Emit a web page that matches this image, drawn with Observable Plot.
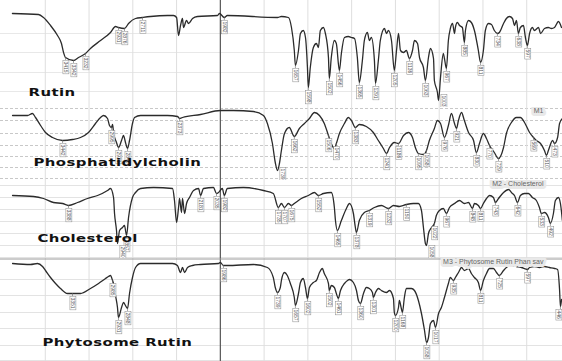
<!DOCTYPE html>
<html><head><meta charset="utf-8">
<script src="https://cdn.jsdelivr.net/npm/d3@7"></script>
<script src="https://cdn.jsdelivr.net/npm/@observablehq/plot@0.6"></script>
<style>
body{margin:0;background:#fff;width:562px;height:361px;overflow:hidden}
#chart svg{display:block}
</style></head><body><div id="chart"></div>
<script>
// wavenumber (cm-1), transmittance (panel units)
const rutin = [[3900,94],[3662,93],[3616,90],[3552,82],[3488,72],[3452,64],[3433,55],[3415,50],[3342,47],[3296,50],[3232,54],[3187,59],[3095,67],[3004,75],[2958,81],[2931,80],[2876,79],[2839,84],[2775,89],[2711,90],[2638,91],[2483,92],[2428,92],[2400,90],[2382,72],[2364,82],[2346,89],[2337,80],[2309,87],[2291,84],[2254,89],[2209,91],[2026,92],[2008,94],[1982,90],[1968,92],[1739,90],[1721,91],[1689,90],[1675,80],[1662,57],[1657,42],[1643,57],[1634,74],[1621,77],[1611,70],[1602,40],[1598,20],[1589,40],[1575,60],[1561,64],[1552,60],[1543,77],[1529,80],[1520,74],[1506,50],[1502,29],[1493,50],[1479,67],[1470,64],[1456,37],[1447,54],[1433,70],[1415,71],[1401,70],[1387,69],[1374,50],[1365,25],[1351,47],[1342,67],[1328,75],[1319,67],[1310,70],[1296,47],[1291,24],[1278,47],[1269,67],[1250,79],[1241,74],[1232,77],[1218,67],[1205,37],[1195,57],[1186,74],[1177,57],[1163,55],[1150,57],[1136,49],[1122,57],[1113,67],[1099,64],[1090,50],[1072,40],[1063,27],[1049,50],[1040,59],[1026,49],[1022,27],[1008,15],[1003,7],[994,30],[981,54],[976,49],[967,39],[958,67],[949,79],[939,84],[930,74],[926,80],[917,85],[907,82],[894,80],[885,65],[880,77],[866,87],[853,85],[839,77],[821,57],[811,45],[798,57],[789,77],[775,84],[761,83],[748,77],[734,74],[725,75],[706,84],[693,89],[679,91],[665,89],[656,82],[647,87],[638,74],[629,80],[615,82],[606,70],[597,62],[587,74],[574,80],[565,77],[546,80],[537,74],[519,79],[501,80],[487,79],[473,80],[455,86],[441,80]];
const rutinPeaks = [3415,3342,3232,2931,2876,2711,1982,1657,1598,1502,1456,1365,1291,1205,1136,1063,1003,967,885,811,734,638,597];

const phosphatidylcholin = [[3899,65],[3762,65],[3717,67],[3689,63],[3643,55],[3598,48],[3534,43],[3442,40],[3351,41],[3278,43],[3205,48],[3141,57],[3095,63],[3067,65],[3031,62],[3013,55],[2995,53],[2985,56],[2976,48],[2949,38],[2931,33],[2903,40],[2885,45],[2867,38],[2848,32],[2830,40],[2803,57],[2784,63],[2729,65],[2483,65],[2392,64],[2373,62],[2346,63],[2181,66],[2000,70],[1941,70],[1849,69],[1803,65],[1785,57],[1762,37],[1749,18],[1739,10],[1730,17],[1721,30],[1707,47],[1685,53],[1662,44],[1639,52],[1616,57],[1593,62],[1570,68],[1547,65],[1525,57],[1506,45],[1493,37],[1479,32],[1470,37],[1456,47],[1433,57],[1415,63],[1401,60],[1383,53],[1365,56],[1333,54],[1301,48],[1278,40],[1255,32],[1241,27],[1227,33],[1205,38],[1186,37],[1163,45],[1141,48],[1122,43],[1109,33],[1095,27],[1072,26],[1058,30],[1045,40],[1022,52],[1008,60],[994,57],[976,43],[958,55],[944,67],[930,57],[921,52],[912,60],[898,68],[885,60],[866,48],[843,40],[830,28],[816,37],[798,47],[784,42],[770,35],[748,28],[729,22],[706,33],[693,47],[670,58],[647,63],[629,63],[610,58],[587,48],[569,43],[556,40],[537,37],[519,30],[510,25],[501,30],[482,40],[473,37],[459,43],[450,57],[437,62]];
const phosphatidylcholinPeaks = [3442,2995,2931,2848,2373,1739,1662,1506,1470,1383,1241,1186,1095,1058,976,921,830,770,729,569,510,473];

const cholesterol = [[3899,63],[3707,62],[3616,60],[3525,56],[3442,55],[3388,53],[3305,56],[3214,60],[3122,63],[3031,68],[3004,70],[2976,61],[2967,45],[2949,28],[2940,15],[2921,28],[2894,31],[2876,33],[2857,23],[2839,41],[2803,61],[2775,66],[2729,70],[2611,71],[2437,70],[2419,58],[2400,36],[2382,51],[2373,60],[2355,46],[2346,60],[2327,45],[2309,55],[2282,61],[2245,68],[2199,70],[2181,63],[2154,70],[2063,71],[2035,65],[2017,66],[1991,70],[1982,63],[1968,70],[1895,71],[1803,68],[1758,65],[1735,51],[1721,55],[1707,51],[1689,55],[1675,53],[1662,55],[1630,60],[1598,63],[1570,66],[1552,63],[1529,65],[1493,66],[1479,51],[1474,38],[1465,28],[1447,38],[1424,50],[1410,55],[1392,45],[1383,31],[1378,26],[1365,38],[1342,46],[1319,48],[1296,51],[1264,53],[1232,50],[1209,53],[1182,52],[1150,54],[1118,55],[1095,55],[1081,48],[1072,31],[1063,15],[1058,13],[1049,25],[1035,31],[1022,35],[1013,43],[999,48],[981,50],[967,45],[953,51],[930,55],[907,58],[885,55],[866,56],[848,50],[839,55],[821,53],[811,50],[798,55],[784,60],[770,63],[752,61],[743,56],[729,60],[706,66],[683,69],[670,66],[656,63],[642,56],[629,63],[610,65],[592,65],[574,61],[556,58],[542,51],[533,45],[519,46],[501,41],[492,35],[478,45],[469,58],[455,61],[446,55],[437,38]];
const cholesterolPeaks = [3388,2940,2857,2181,2035,1982,1735,1707,1675,1552,1465,1378,1319,1232,1150,1058,1022,967,848,811,743,642,533,492];

const phytosomeRutin = [[3899,98],[3735,97],[3671,98],[3625,95],[3598,91],[3552,84],[3506,78],[3461,73],[3397,68],[3351,68],[3278,68],[3187,73],[3113,78],[3049,83],[3022,85],[3004,86],[2985,81],[2976,78],[2958,66],[2940,54],[2931,44],[2903,54],[2885,59],[2867,56],[2848,53],[2830,68],[2803,84],[2775,94],[2729,98],[2638,98],[2437,98],[2392,96],[2364,89],[2346,94],[2327,89],[2300,94],[2254,96],[2181,97],[2017,98],[2000,99],[1986,96],[1968,96],[1849,97],[1785,94],[1758,84],[1749,74],[1739,69],[1726,74],[1721,81],[1707,89],[1694,86],[1680,78],[1662,64],[1657,56],[1643,68],[1634,79],[1621,83],[1611,74],[1602,63],[1593,74],[1575,79],[1561,81],[1547,89],[1534,93],[1525,88],[1506,78],[1502,71],[1493,76],[1479,74],[1470,68],[1461,63],[1451,71],[1433,78],[1419,81],[1410,82],[1392,79],[1378,71],[1369,61],[1360,58],[1346,68],[1333,74],[1319,73],[1305,69],[1301,64],[1291,69],[1278,73],[1264,71],[1241,69],[1227,71],[1209,63],[1205,49],[1200,46],[1186,54],[1182,61],[1173,53],[1168,49],[1159,64],[1150,73],[1127,73],[1113,71],[1095,61],[1081,48],[1067,31],[1058,19],[1049,24],[1040,38],[1026,41],[1017,34],[1003,48],[990,54],[976,64],[958,78],[949,84],[935,81],[926,84],[912,89],[898,94],[885,91],[866,93],[853,88],[839,84],[821,79],[811,71],[798,81],[784,88],[770,93],[752,93],[738,89],[725,86],[706,91],[693,94],[670,96],[647,95],[624,94],[597,92],[587,94],[565,95],[542,94],[519,95],[496,94],[473,93],[459,92],[450,72],[446,55],[441,62]];
const phytosomeRutinPeaks = [3351,2985,2931,2848,1986,1739,1657,1602,1502,1461,1360,1301,1200,1168,1058,1017,935,811,725,597,446];

const titles = ["Rutin", "Phosphatidylcholin", "Cholesterol", "Phytosome Rutin"];
const tags = ["", "M1", "M2 - Cholesterol", "M3 - Phytosome Rutin Phan sav"];
const vGrid = [3600, 3200, 2800, 2400, 1800, 1600, 1400, 1200, 1000, 800, 600];
const scaleBreak = [2000];
const rutinGrid = [16, 35, 55, 74];
const pcGrid = [2, 13, 24, 35, 47, 60, 72];
const cholGrid = [1, 13, 25, 37, 49, 61, 73];
const phytoGrid = [1, 16, 33, 49, 66, 82];
const phytoTop = [102.5];

// instrument axis: 4000-2000 at 400 cm-1 per division, 2000-400 at 200 cm-1 per division
const division = d3.scaleLinear().domain([4000, 2000, 400]).range([0, 5, 13]);
const W = 562, X0 = 1, X1 = 570;

function panel(cfg) {
  const lookup = new Map(cfg.data.map(d => [d[0], d[1]]));
  const peakRows = cfg.peaks.map(w => ({w, t: lookup.get(w)}));
  const below = peakRows.filter(d => d.t >= 16);
  const beside = peakRows.filter(d => d.t < 16);
  const edgeDx = d => {
    const px = X0 + division(d.w) / 13 * (X1 - X0);
    return px > W - 4 ? W - 4 - px : 0;
  };
  const labelStyle = {rotate: 90, lineAnchor: "middle", fontSize: 5, fontFamily: "Liberation Sans Narrow, Liberation Sans",
    fill: "#555", ariaLabel: "peak"};
  const marks = [
    Plot.ruleY(cfg.grid, {stroke: cfg.gridColor, strokeDasharray: cfg.dash, strokeWidth: 1}),
    Plot.ruleX(vGrid, {x: d => division(d), stroke: "#dedede"}),
    Plot.ruleX(scaleBreak, {x: d => division(d), stroke: "#555", strokeWidth: 1.2})
  ];
  if (cfg.top) marks.push(Plot.ruleY(cfg.top, {stroke: "#999", strokeWidth: 1.2}));
  marks.push(
    Plot.line(cfg.data, {x: d => division(d[0]), y: d => d[1], stroke: "#2b2b2b", strokeWidth: 1.3, curve: "monotone-x"}),
    Plot.ruleX(below, {x: d => division(d.w), y1: "t", y2: d => d.t - 3, stroke: "#666", strokeWidth: 0.6}),
    ...below.map(d => Plot.text([d], {x: r => division(r.w), y: "t", text: r => String(r.w), textAnchor: "start", dy: 4, dx: edgeDx(d), ...labelStyle})),
    Plot.text(beside, {x: d => division(d.w), y: () => 1, text: d => String(d.w), textAnchor: "end", dx: 5, ...labelStyle}),
    Plot.text([cfg.title], {frameAnchor: "bottom-left", dx: cfg.tx, dy: cfg.ty, textAnchor: "start", lineAnchor: "middle",
      fontFamily: "DejaVu Sans", fontWeight: "bold", fontSize: 10.5, fill: "#111"})
  );
  if (cfg.tag) marks.push(
    Plot.text([cfg.tag], {frameAnchor: "top-right", dx: -19, dy: 3, textAnchor: "end", lineAnchor: "middle",
      fontSize: 7, fontFamily: "Liberation Sans", fill: "#666", stroke: "#e9e9e9", strokeWidth: 6})
  );
  return Plot.plot({
    width: W, height: cfg.h, margin: 0,
    style: {background: "#fff", overflow: "hidden"},
    x: {domain: [0, 13], range: [X0, X1], axis: null},
    y: {domain: [0, cfg.h], range: [cfg.h, 0], axis: null},
    marks
  });
}

function finish(svg) {
  // wide, heavy sample names
  d3.select(svg).selectAll("text").filter(function() { return titles.includes(this.textContent); })
    .each(function() {
      const bb = this.getBBox();
      const t = this.getAttribute("transform") || "";
      this.setAttribute("transform", `${t} translate(${bb.x},0) scale(1.42,1) translate(${-bb.x},0)`);
      this.setAttribute("letter-spacing", "0.3");
    });
  // boxed peak labels
  d3.select(svg).selectAll("text").filter(function() { return /^\d+$/.test(this.textContent); })
    .each(function() {
      const bb = this.getBBox();
      const r = document.createElementNS("http://www.w3.org/2000/svg", "rect");
      r.setAttribute("x", bb.x - 1); r.setAttribute("y", bb.y);
      r.setAttribute("width", bb.width + 2); r.setAttribute("height", bb.height);
      r.setAttribute("fill", "#fff"); r.setAttribute("stroke", "#888"); r.setAttribute("stroke-width", "0.5");
      const t = this.getAttribute("transform"); if (t) r.setAttribute("transform", t);
      this.parentNode.insertBefore(r, this);
    });
}

const el = document.getElementById("chart");
const panels = [
  panel({data: rutin, peaks: rutinPeaks, h: 107, grid: rutinGrid, gridColor: "#e8e8e8", title: titles[0], tx: 28, ty: -15, tag: tags[0]}),
  panel({data: phosphatidylcholin, peaks: phosphatidylcholinPeaks, h: 73, grid: pcGrid, gridColor: "#c8c8c8", dash: "3,2", title: titles[1], tx: 33, ty: -18, tag: tags[1]}),
  panel({data: cholesterol, peaks: cholesterolPeaks, h: 78, grid: cholGrid, gridColor: "#e3e3e3", title: titles[2], tx: 37, ty: -20, tag: tags[2]}),
  panel({data: phytosomeRutin, peaks: phytosomeRutinPeaks, h: 103, grid: phytoGrid, gridColor: "#e3e3e3", top: phytoTop, title: titles[3], tx: 42, ty: -19, tag: tags[3]})
];
panels.forEach(svg => { el.append(svg); finish(svg); });
</script></body></html>
